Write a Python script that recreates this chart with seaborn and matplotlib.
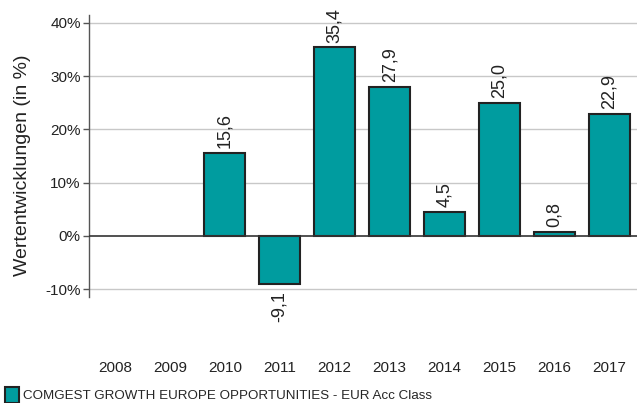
import pandas as pd
import numpy as np
import seaborn as sns
import matplotlib.pyplot as plt
from matplotlib.patches import Patch

# Data
years = ['2008', '2009', '2010', '2011', '2012', '2013', '2014', '2015', '2016', '2017']
value_years = ['2010', '2011', '2012', '2013', '2014', '2015', '2016', '2017']
returns = [15.6, -9.1, 35.4, 27.9, 4.5, 25.0, 0.8, 22.9]
y_ticks = [-10, 0, 10, 20, 30, 40]
series_name = 'COMGEST GROWTH EUROPE OPPORTUNITIES - EUR Acc Class'

bar_color = '#009c9f'
edge_color = '#222222'
text_color = '#222222'

sns.set_theme(style='white')
plt.rcParams['font.family'] = ['Liberation Sans', 'DejaVu Sans']

df = pd.DataFrame({'year': value_years, 'ret': returns})

fig = plt.figure(figsize=(6.37, 4.03), dpi=100)
ax = fig.add_axes([0.1397, 0.263, 0.8603, 0.700])

sns.barplot(data=df, x='year', y='ret', order=years, color=bar_color,
            saturation=1, width=0.75, edgecolor=edge_color, linewidth=1.5,
            ax=ax, zorder=3)

ax.set_ylim(-11.5, 41.5)
ax.set_xlim(-0.47, 9.5)
ax.set_yticks(y_ticks)
ax.set_yticklabels([f'{t}%' for t in y_ticks], fontsize=11, color=text_color)

# horizontal grid lines, zero line darker
for t in y_ticks:
    if t == 0:
        ax.axhline(0, color='#333333', lw=1.2, zorder=4)
    else:
        ax.axhline(t, color='#c8c8c8', lw=1.0, zorder=1)

for s in ['top', 'right', 'bottom']:
    ax.spines[s].set_visible(False)
ax.spines['left'].set_color('#555555')
ax.spines['left'].set_linewidth(1.0)
ax.tick_params(axis='y', left=True, length=4, width=1, color='#555555', pad=2)
ax.tick_params(axis='x', bottom=False, pad=40, labelsize=11, labelcolor=text_color)
ax.set_xlabel('')
ax.set_ylabel('Wertentwicklungen (in %)', fontsize=14, color=text_color)
ax.yaxis.set_label_coords(-0.106, 0.468)

# value labels
for yr, v in zip(value_years, returns):
    xi = years.index(yr)
    txt = f'{v:.1f}'.replace('.', ',')
    if v >= 0:
        ax.annotate(txt, (xi, v), xytext=(0, 3.5), textcoords='offset points',
                    rotation=90, ha='center', va='bottom', fontsize=13, color=text_color)
    else:
        ax.annotate(txt, (xi, v), xytext=(0, -5), textcoords='offset points',
                    rotation=90, ha='center', va='top', fontsize=13, color=text_color)

handle = Patch(facecolor=bar_color, edgecolor=edge_color, linewidth=1.5)
fig.legend([handle], [series_name], loc='lower left', bbox_to_anchor=(0.0, -0.012),
           frameon=False, fontsize=9.6, handlelength=1.0, handleheight=1.4,
           handletextpad=0.3, borderaxespad=0.2, borderpad=0.2)

fig.savefig('out.png', dpi=100)
